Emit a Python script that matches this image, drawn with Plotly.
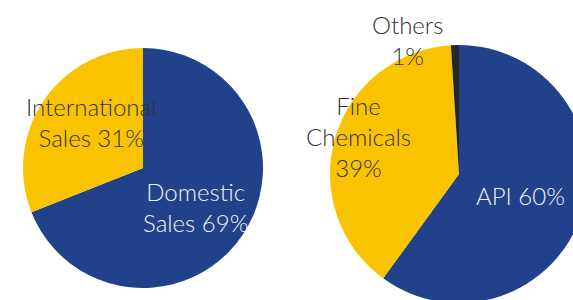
import plotly.graph_objects as go

# Data
sales_labels = ["Domestic Sales", "International Sales"]
sales_values = [69, 31]
sales_text = ["Domestic<br>Sales 69%", "International<br>Sales 31%"]

product_labels = ["API", "Fine Chemicals", "Others"]
product_values = [60, 39, 1]
product_text = ["API 60%", "Fine<br>Chemicals<br>39%", "Others<br>1%"]

BLUE = "#21428A"
YELLOW = "#F9C300"
BLACK = "#262626"

W, H = 600, 320

def px_x(x):
    return x / W

def px_y(y):
    return 1 - y / H

fig = go.Figure()
fig.add_trace(go.Pie(
    labels=sales_labels, values=sales_values, sort=False, direction="clockwise",
    rotation=0, marker=dict(colors=[BLUE, YELLOW], line=dict(width=0)),
    textinfo="none", hoverinfo="label+percent", showlegend=False,
    domain=dict(x=[px_x(23), px_x(263)], y=[px_y(288), px_y(48)]),
))
fig.add_trace(go.Pie(
    labels=product_labels, values=product_values, sort=False, direction="clockwise",
    rotation=0, marker=dict(colors=[BLUE, YELLOW, BLACK], line=dict(width=0)),
    textinfo="none", hoverinfo="label+percent", showlegend=False,
    domain=dict(x=[px_x(330), px_x(588)], y=[px_y(303), px_y(45)]),
))

FONT = "Lato, Carlito, Calibri, sans-serif"
DARK = "#333333"
LIGHT = "#F2F2F2"
ann = [
    (sales_text[1], 91, 122, DARK),
    (sales_text[0], 195, 207, LIGHT),
    (product_text[2], 407, 40, DARK),
    (product_text[1], 358, 136, DARK),
    (product_text[0], 520, 195, LIGHT),
]
for text, x, y, col in ann:
    fig.add_annotation(
        x=px_x(x), y=px_y(y), xref="paper", yref="paper", text=text,
        showarrow=False, xanchor="center", yanchor="middle", align="center",
        font=dict(family=FONT, size=24, color=col, weight=300),
    )

fig.update_layout(
    width=W, height=H, margin=dict(l=0, r=0, t=0, b=0),
    paper_bgcolor="white", plot_bgcolor="white",
)
fig.write_html(
    "out.html",
    config={"displayModeBar": False},
    post_script="document.body.style.overflow='hidden';document.body.style.margin='0';",
)
